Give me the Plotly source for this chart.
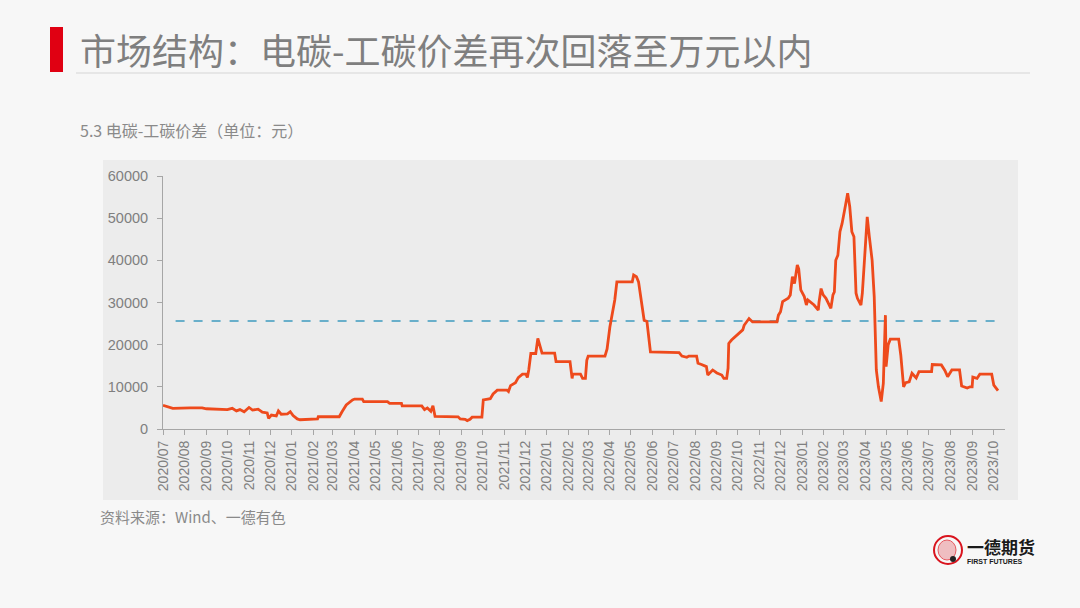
import plotly.graph_objects as go

# ---- data ----
dates = [
    "2020-07-01", "2020-07-11", "2020-07-15", "2020-08-09", "2020-08-26", "2020-09-01",
    "2020-10-01", "2020-10-08", "2020-10-14", "2020-10-19", "2020-10-25", "2020-11-01",
    "2020-11-06", "2020-11-14", "2020-11-20", "2020-11-27", "2020-11-29", "2020-12-03",
    "2020-12-10", "2020-12-13", "2020-12-17", "2020-12-26", "2020-12-30", "2021-01-03",
    "2021-01-09", "2021-01-13", "2021-02-07", "2021-02-08", "2021-03-10", "2021-03-14",
    "2021-03-20", "2021-03-29", "2021-04-01", "2021-04-12", "2021-04-14", "2021-05-18",
    "2021-05-21", "2021-06-07", "2021-06-08", "2021-07-06", "2021-07-10", "2021-07-14",
    "2021-07-19", "2021-07-22", "2021-07-25", "2021-08-27", "2021-08-30", "2021-09-06",
    "2021-09-09", "2021-09-13", "2021-09-16", "2021-09-30", "2021-10-02", "2021-10-12",
    "2021-10-16", "2021-10-22", "2021-11-05", "2021-11-07", "2021-11-10", "2021-11-17",
    "2021-11-21", "2021-11-27", "2021-12-02", "2021-12-04", "2021-12-06", "2021-12-09",
    "2021-12-16", "2021-12-19", "2021-12-22", "2021-12-25", "2022-01-12", "2022-01-14",
    "2022-02-03", "2022-02-06", "2022-02-07", "2022-02-18", "2022-02-21", "2022-02-25",
    "2022-02-27", "2022-03-01", "2022-03-25", "2022-03-28", "2022-04-01", "2022-04-08",
    "2022-04-11", "2022-05-03", "2022-05-05", "2022-05-09", "2022-05-12", "2022-05-16",
    "2022-05-20", "2022-05-24", "2022-05-29", "2022-07-09", "2022-07-13", "2022-07-20",
    "2022-07-23", "2022-08-03", "2022-08-05", "2022-08-10", "2022-08-17", "2022-08-19",
    "2022-08-22", "2022-08-26", "2022-09-01", "2022-09-08", "2022-09-11", "2022-09-15",
    "2022-09-17", "2022-09-18", "2022-09-22", "2022-09-27", "2022-10-02", "2022-10-08",
    "2022-10-10", "2022-10-15", "2022-10-17", "2022-10-22", "2022-11-26", "2022-11-28",
    "2022-12-01", "2022-12-04", "2022-12-12", "2022-12-15", "2022-12-18", "2022-12-21",
    "2022-12-25", "2022-12-27", "2022-12-30", "2023-01-04", "2023-01-07", "2023-01-09",
    "2023-01-18", "2023-01-24", "2023-01-25", "2023-01-28", "2023-01-31", "2023-02-04",
    "2023-02-11", "2023-02-14", "2023-02-16", "2023-02-18", "2023-02-21", "2023-02-24",
    "2023-02-27", "2023-03-04", "2023-03-07", "2023-03-10", "2023-03-13", "2023-03-16",
    "2023-03-19", "2023-03-21", "2023-03-26", "2023-03-28", "2023-04-01", "2023-04-04",
    "2023-04-07", "2023-04-11", "2023-04-14", "2023-04-17", "2023-04-20", "2023-04-24",
    "2023-04-27", "2023-04-28", "2023-04-30", "2023-05-01", "2023-05-04", "2023-05-07",
    "2023-05-19", "2023-05-22", "2023-05-26", "2023-05-29", "2023-06-03", "2023-06-07",
    "2023-06-13", "2023-06-17", "2023-07-05", "2023-07-06", "2023-07-19", "2023-07-24",
    "2023-07-28", "2023-08-03", "2023-08-14", "2023-08-17", "2023-08-25", "2023-08-29",
    "2023-09-01", "2023-09-02", "2023-09-08", "2023-09-12", "2023-09-29", "2023-10-02",
    "2023-10-08",
]
spread = [
    5600, 5000, 4900, 5000, 5000, 4800,
    4600, 4900, 4300, 4600, 4100, 5100,
    4500, 4700, 4000, 3800, 2500, 3300,
    3100, 4300, 3500, 3600, 4100, 3200,
    2400, 2200, 2400, 2900, 2900, 4100,
    5700, 6900, 7100, 7100, 6500, 6500,
    6100, 6100, 5500, 5500, 4600, 5000,
    4200, 5500, 3000, 2900, 2400, 2300,
    2000, 2300, 2800, 2800, 6900, 7200,
    8300, 9200, 9200, 8900, 10300, 11000,
    12200, 13000, 13000, 12200, 14000, 17900,
    17900, 21500, 20000, 18000, 18000, 16000,
    16000, 12000, 13000, 13000, 12000, 12000,
    16300, 17300, 17300, 19000, 24200, 30600,
    34900, 34900, 36500, 36100, 34900, 30600,
    25800, 25500, 18300, 18100, 17300, 17000,
    17300, 17300, 15600, 15300, 14800, 12800,
    13300, 14000, 13300, 12800, 12000, 12000,
    14400, 20300, 21100, 21900, 22700, 23500,
    24600, 25800, 26200, 25400, 25400, 27000,
    27800, 30200, 31000, 31800, 36100, 34500,
    38900, 38000, 33000, 31400, 29400, 30600,
    29400, 28200, 30000, 33300, 31800, 31000,
    28600, 31800, 32500, 40000, 41200, 46800,
    48700, 53100, 55900, 52700, 46800, 45600,
    32200, 31000, 29400, 32200, 43200, 50300,
    45600, 40000, 31400, 14000, 10000, 6500,
    10800, 14800, 27000, 14800, 20000, 21300,
    21300, 17500, 10000, 11000, 11200, 13200,
    12100, 13600, 13600, 15300, 15200, 13900,
    12400, 14000, 14000, 10200, 9700, 10000,
    10000, 12300, 12000, 13000, 13000, 10400,
    9100,
]
avg_dates = ["2020-07-19", "2023-10-04"]
avg_values = [25600, 25600]

y_ticks = [0, 10000, 20000, 30000, 40000, 50000, 60000]

title_text = "市场结构：电碳-工碳价差再次回落至万元以内"
subtitle_text = "5.3 电碳-工碳价差（单位：元）"
source_text = "资料来源：Wind、一德有色"

W, H = 1080, 608
L, R, T, B = 163, 1005, 176, 429

fig = go.Figure()
fig.add_trace(go.Scatter(
    x=avg_dates, y=avg_values, mode="lines",
    line=dict(color="#3E9BBF", width=1.6, dash="dash"),
    hoverinfo="skip", showlegend=False,
))
fig.add_trace(go.Scatter(
    x=dates, y=spread, mode="lines",
    line=dict(color="#EE4A1C", width=2.8),
    showlegend=False,
))

def fx(p):
    return (p - L) / (R - L)

def fy(p):
    return (B - p) / (B - T)

shapes = [
    # grey chart box
    dict(type="rect", xref="paper", yref="paper",
         x0=fx(103), x1=fx(1018), y0=fy(500), y1=fy(160),
         fillcolor="#ECECEC", line=dict(width=0), layer="below"),
    # red title bar
    dict(type="rect", xref="paper", yref="paper",
         x0=fx(50), x1=fx(63), y0=fy(72), y1=fy(27),
         fillcolor="#E00012", line=dict(width=0)),
    # title underline
    dict(type="line", xref="paper", yref="paper",
         x0=fx(76), x1=fx(1030), y0=fy(73), y1=fy(73),
         line=dict(color="#D6D6D6", width=1.2)),
    # logo
    dict(type="circle", xref="paper", yref="paper",
         x0=fx(934), x1=fx(962), y0=fy(564), y1=fy(536),
         fillcolor="rgba(0,0,0,0)", line=dict(color="#D9141E", width=2)),
    dict(type="circle", xref="paper", yref="paper",
         x0=fx(938), x1=fx(956), y0=fy(560), y1=fy(540),
         fillcolor="rgba(217,20,30,0.25)", line=dict(color="#E65A60", width=1)),
    dict(type="circle", xref="paper", yref="paper",
         x0=fx(950), x1=fx(956), y0=fy(562), y1=fy(556),
         fillcolor="#222222", line=dict(width=0)),
]

def ann(x, y, text, size, color, family="Noto Sans CJK SC", xanchor="left", yanchor="middle"):
    return dict(xref="paper", yref="paper", x=fx(x), y=fy(y),
                text=text, showarrow=False, xanchor=xanchor, yanchor=yanchor,
                font=dict(size=size, color=color, family=family))

annotations = [
    ann(78, 49, title_text, 36, "#7F7F7F"),
    ann(78, 130, subtitle_text, 16, "#8A8A8A"),
    ann(98, 516, source_text, 15, "#8A8A8A"),
    ann(965, 546, "<b>一德期货</b>", 17, "#1A1A1A"),
    ann(965, 561, "<b>FIRST FUTURES</b>", 7, "#1A1A1A", family="Liberation Sans"),
]

fig.update_layout(
    width=W, height=H,
    margin=dict(l=L, r=W - R, t=T, b=H - B, pad=0),
    paper_bgcolor="#F7F7F7",
    plot_bgcolor="rgba(0,0,0,0)",
    shapes=shapes,
    annotations=annotations,
    showlegend=False,
    xaxis=dict(
        type="date",
        range=["2020-07-01", "2023-10-18"],
        tick0="2020-07-01", dtick="M1", tickformat="%Y/%m",
        tickangle=-90,
        ticks="outside", ticklen=5, tickcolor="#A6A6A6",
        showline=True, linecolor="#A6A6A6", linewidth=1,
        showgrid=False, zeroline=False,
        tickfont=dict(family="Liberation Sans", size=14, color="#7F7F7F"),
    ),
    yaxis=dict(
        range=[0, 60000],
        tickvals=y_ticks, ticktext=[str(v) for v in y_ticks],
        ticks="outside", ticklen=5, tickcolor="#A6A6A6",
        ticklabelstandoff=6,
        showline=True, linecolor="#A6A6A6", linewidth=1,
        showgrid=False, zeroline=False,
        tickfont=dict(family="Liberation Sans", size=14.5, color="#7F7F7F"),
    ),
)

fig.write_html(
    "out.html",
    config={"displayModeBar": False},
    post_script="document.body.style.margin='0';document.body.style.background='#F7F7F7';",
)
